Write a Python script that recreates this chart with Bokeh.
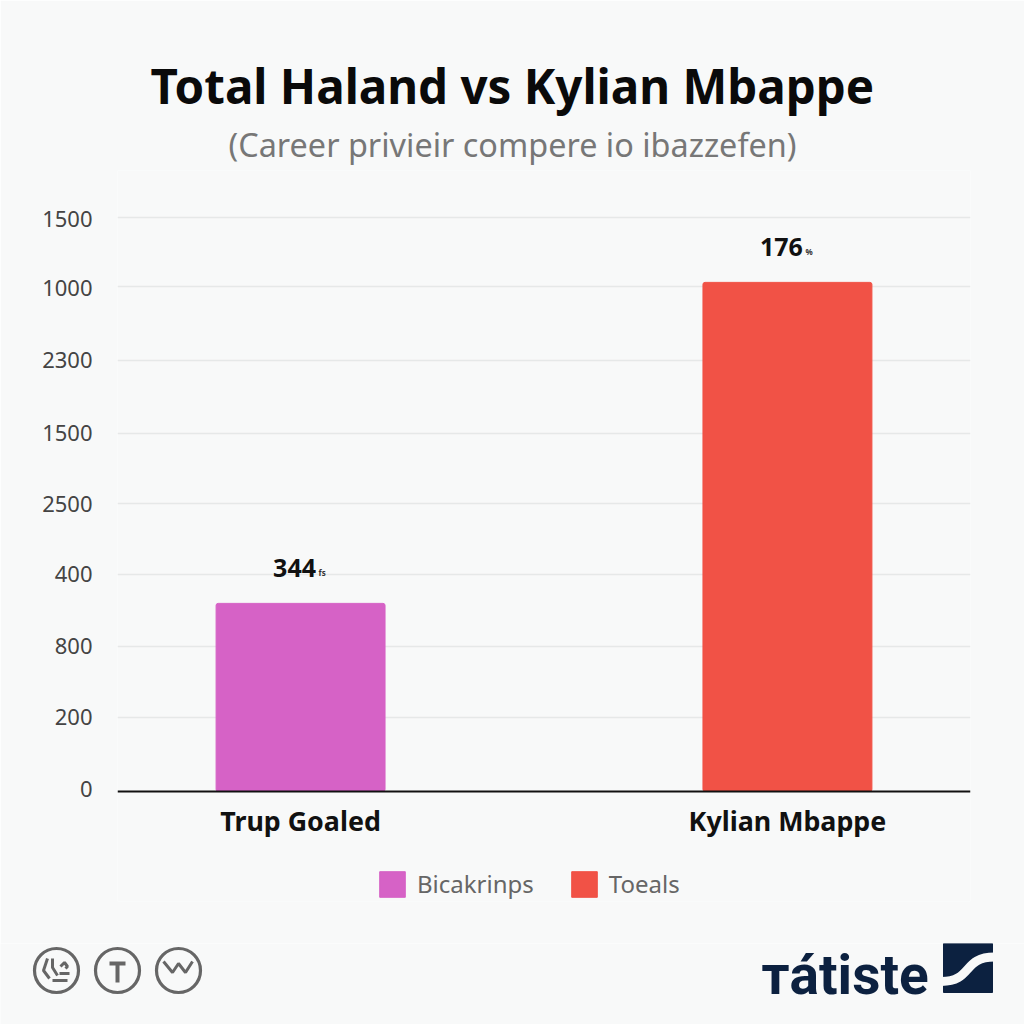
from bokeh.plotting import figure
from bokeh.embed import file_html
from bokeh.resources import INLINE
from bokeh.layouts import column
from bokeh.models import (FactorRange, Range1d, FixedTicker, Title, Legend, LegendItem,
                          ColumnDataSource)
from bokeh.core.properties import value

# ---------- data ----------
TITLE = "Total Haland vs Kylian Mbappe"
SUBTITLE = "(Career priv\u0456eir compere io  ibazzefen)"
categories = ["Trup Goaled", "Kylian Mbappe"]
legend_labels = ["Bicakrinps", "Toeals"]
bar_heights = [526, 1424]          # in axis-position units (the printed axis is not monotonic)
bar_labels = ["344", "176"]
bar_suffixes = ["fs", "%"]
grid_positions = [207, 406, 607, 805, 1001, 1206, 1413, 1606]
tick_positions = [6, 207, 406, 607, 804, 1004, 1206, 1408, 1600]
tick_labels = ["0", "200", "800", "400", "2500", "1500", "2300", "1000", "1500"]
colors = ["#d662c6", "#f15246"]

BG = "#f8f9f9"
FONT = "Noto Sans"

p = figure(width=1024, height=943, output_backend="svg", toolbar_location=None,
           x_range=FactorRange(factors=categories, range_padding=-0.124,
                               range_padding_units="absolute"),
           y_range=Range1d(-308, 1737), frame_width=853, frame_height=731,
           background_fill_color=BG, border_fill_color=BG, outline_line_color=None,
           min_border_left=117, min_border_right=54, min_border_top=170, min_border_bottom=42)
p.frame_align = False

renderers = []
for i in range(2):
    src = ColumnDataSource(dict(x=[categories[i]], top=[bar_heights[i]],
                                lab=[bar_labels[i]], suf=[bar_suffixes[i]]))
    r = p.vbar(x="x", top="top", width=0.347, color=colors[i], border_radius=2, source=src)
    renderers.append(r)
    p.text(x="x", y="top", text="lab", source=src, text_font=value(FONT), text_font_style="bold",
           text_font_size="25px", text_color="#111111", text_align="center",
           text_baseline="bottom", x_offset=-6, y_offset=-26)
    p.text(x="x", y="top", text="suf", source=src, text_font=value(FONT), text_font_style="bold",
           text_font_size="8px", text_color="#333333", text_align="left",
           text_baseline="bottom", x_offset=18, y_offset=-25)

# axes
xa = p.xaxis[0]
xa.fixed_location = 0
xa.axis_line_color = "#111111"
xa.axis_line_width = 2
xa.major_tick_line_color = None
xa.minor_tick_line_color = None
xa.major_label_text_font = FONT
xa.major_label_text_font_style = "bold"
xa.major_label_text_font_size = "26.8px"
xa.major_label_text_color = "#111111"
xa.major_label_standoff = 5

ya = p.yaxis[0]
ya.ticker = FixedTicker(ticks=tick_positions)
ya.major_label_overrides = {t: l for t, l in zip(tick_positions, tick_labels)}
ya.axis_line_color = None
ya.major_tick_line_color = None
ya.minor_tick_line_color = None
ya.major_label_text_font = FONT
ya.major_label_text_font_size = "22px"
ya.major_label_text_color = "#444444"
ya.major_label_standoff = 19

p.xgrid.visible = False
p.ygrid[0].ticker = FixedTicker(ticks=grid_positions)
p.ygrid[0].grid_line_color = "#e6e8e8"
p.ygrid[0].grid_line_width = 1.5

# titles
sub = Title(text=SUBTITLE, align="left", offset=111, text_font=FONT, text_font_size="32.4px",
            text_font_style="normal", text_color="#777777", standoff=9, text_line_height=0.68)
ttl = Title(text=TITLE, align="left", offset=33, text_font=FONT, text_font_size="47.5px",
            text_font_style="bold", text_color="#0a0a0a", standoff=-5)
p.add_layout(sub, "above")
p.add_layout(ttl, "above")

# legend
lg = Legend(items=[LegendItem(label=legend_labels[i], renderers=[renderers[i]]) for i in range(2)],
            orientation="horizontal", location=(259, 1), padding=0, margin=0, spacing=34,
            glyph_width=32, glyph_height=32, label_standoff=9,
            label_text_font=FONT, label_text_font_size="24px", label_text_color="#666666",
            background_fill_alpha=0, border_line_color=None)
p.add_layout(lg, "center")

# footer: icons and logo, in window pixels
f = figure(width=1024, height=81, output_backend="svg", toolbar_location=None,
           x_range=Range1d(0, 1024), y_range=Range1d(1024, 943),
           background_fill_color=BG, border_fill_color=BG, outline_line_color=None,
           min_border=0)
f.frame_align = False
f.axis.visible = False
f.grid.visible = False
GR = "#666666"
f.scatter([56, 117, 178], [970, 970, 970], size=44, fill_color=None, line_color=GR, line_width=3.2)
f.multi_line([[47, 43, 49], [52, 52, 57], [60, 64, 67, 65], [59, 69], [52, 67],
              [163, 172, 178, 185, 192]],
             [[958, 970, 978], [958, 967, 975], [966, 962, 966, 968], [973, 973], [980, 980],
              [961, 972, 963, 972, 961]],
             line_color=GR, line_width=3)
f.multi_line([[109, 125], [117, 117]], [[963, 963], [963, 982]], line_color=GR, line_width=4)
NAVY = "#0c2140"
f.text([761], [974], text=["\u0442\u00e1tiste"], text_font=value("Roboto"),
       text_font_style="bold", text_font_size="55px", text_color=NAVY, text_align="left",
       text_baseline="middle")
f.quad(left=[943], right=[992], top=[943], bottom=[992], color=NAVY)
f.bezier(x0=[941], y0=[981], x1=[994], y1=[956.5], cx0=[972], cy0=[981], cx1=[962], cy1=[956.5],
         line_color=BG, line_width=9)

layout = column(p, f, spacing=0)

TEMPLATE = """<!DOCTYPE html><html><head><meta charset="utf-8"><title>chart</title>
{{ bokeh_css }}{{ bokeh_js }}<style>html,body{background:#f8f9f9;margin:0;padding:0;overflow:hidden}</style></head>
<body>{{ plot_div }}{{ plot_script }}</body></html>"""
open("out.html", "w").write(file_html(layout, INLINE, template=TEMPLATE))
